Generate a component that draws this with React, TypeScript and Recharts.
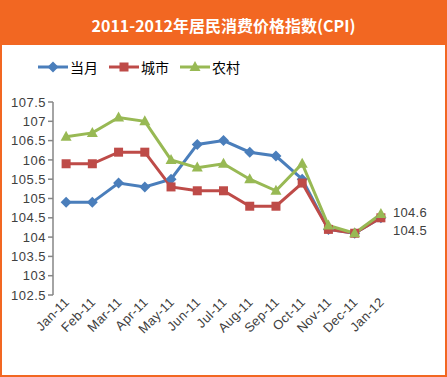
import React from 'react';
import { LineChart, Line, XAxis, YAxis, Legend, LabelList } from 'recharts';

const months = ['Jan-11', 'Feb-11', 'Mar-11', 'Apr-11', 'May-11', 'Jun-11', 'Jul-11', 'Aug-11', 'Sep-11', 'Oct-11', 'Nov-11', 'Dec-11', 'Jan-12'];
const dangyue = [104.9, 104.9, 105.4, 105.3, 105.5, 106.4, 106.5, 106.2, 106.1, 105.5, 104.2, 104.1, 104.5];
const chengshi = [105.9, 105.9, 106.2, 106.2, 105.3, 105.2, 105.2, 104.8, 104.8, 105.4, 104.2, 104.1, 104.5];
const nongcun = [106.6, 106.7, 107.1, 107.0, 106.0, 105.8, 105.9, 105.5, 105.2, 105.9, 104.3, 104.1, 104.6];
const yTicks = [102.5, 103, 103.5, 104, 104.5, 105, 105.5, 106, 106.5, 107, 107.5];
const boundTicks = [0, 1, 2, 3, 4, 5, 6, 7, 8, 9, 10, 11, 12, 13];

const data = months.map((m, i) => ({
  month: m,
  idx: i,
  dangyue: dangyue[i],
  chengshi: chengshi[i],
  nongcun: nongcun[i],
}));

const BLUE = '#4A7EBB';
const RED = '#BE4B48';
const GREEN = '#98B954';
const ORANGE = '#F26722';
const AXIS = '#868686';
const TXT = '#404040';
const FONT = 'Liberation Sans';

const Diamond = ({ cx, cy, fill }: any) => (
  <path d={`M${cx},${cy - 5.5}L${cx + 5.5},${cy}L${cx},${cy + 5.5}L${cx - 5.5},${cy}Z`} fill={fill} />
);
const Square = ({ cx, cy, fill }: any) => (
  <rect x={cx - 4.5} y={cy - 4.5} width={9} height={9} fill={fill} />
);
const Triangle = ({ cx, cy, fill }: any) => (
  <path d={`M${cx},${cy - 6}L${cx + 5.5},${cy + 4}L${cx - 5.5},${cy + 4}Z`} fill={fill} />
);

const legendItems = [
  { name: '当月', color: BLUE, Shape: Diamond },
  { name: '城市', color: RED, Shape: Square },
  { name: '农村', color: GREEN, Shape: Triangle },
];

const renderLegend = () => (
  <div style={{ display: 'flex', alignItems: 'center' }}>
    {legendItems.map(({ name, color, Shape }) => (
      <div key={name} style={{ display: 'flex', alignItems: 'center', marginRight: 11 }}>
        <svg width={30} height={14}>
          <line x1={0} y1={7} x2={30} y2={7} stroke={color} strokeWidth={3} />
          <Shape cx={15} cy={7} fill={color} />
        </svg>
        <span style={{ fontFamily: '"Noto Sans CJK SC"', fontSize: 14, color: '#000', marginLeft: 2 }}>{name}</span>
      </div>
    ))}
  </div>
);

const XTick = ({ x, y, payload }: any) => (
  <text
    x={x + 4}
    y={y + 8}
    transform={`rotate(-45 ${x + 4} ${y + 8})`}
    textAnchor="end"
    fontSize={13}
    letterSpacing={0.3}
    fontFamily={FONT}
    fill={TXT}
  >
    {payload.value}
  </text>
);

const lastLabel = (dy: number) => (props: any) => {
  const { x, y, index, value } = props;
  if (index !== months.length - 1) return null;
  return (
    <text x={x + 12} y={y + dy} dominantBaseline="middle" fontSize={13} letterSpacing={0.3} fontFamily={FONT} fill={TXT}>
      {value}
    </text>
  );
};

const App = () => (
  <div
    style={{
      position: 'absolute',
      left: 0,
      top: 0,
      width: 447,
      height: 377,
      boxSizing: 'border-box',
      border: `2px solid ${ORANGE}`,
      background: '#fff',
    }}
  >
    <div
      style={{
        position: 'absolute',
        left: -2,
        top: -2,
        width: 447,
        height: 45,
        background: ORANGE,
        color: '#fff',
        fontFamily: '"Noto Sans CJK SC"',
        fontWeight: 'bold',
        fontSize: 16,
        lineHeight: '50px',
        textAlign: 'center',
      }}
    >
      2011-2012年居民消费价格指数(CPI)
    </div>
    <div style={{ position: 'absolute', left: -2, top: 43 }}>
      <LineChart width={447} height={332} data={data} margin={{ top: 37, right: 53, bottom: 22, left: 0 }}>
        <XAxis
          xAxisId="bound"
          type="number"
          dataKey="idx"
          domain={[0, 13]}
          ticks={boundTicks}
          interval={0}
          allowDataOverflow
          height={0}
          tickFormatter={() => ''}
          tick={{ fontSize: 0 }}
          tickSize={5}
          axisLine={{ stroke: AXIS, strokeWidth: 1.5 }}
          tickLine={{ stroke: AXIS, strokeWidth: 1.5 }}
        />
        <XAxis
          xAxisId="cat"
          dataKey="month"
          height={60}
          padding={{ left: 13.1, right: 13.1 }}
          axisLine={false}
          tickLine={false}
          tickSize={0}
          tickMargin={0}
          interval={0}
          tick={<XTick />}
        />
        <YAxis
          domain={[102.5, 107.5]}
          ticks={yTicks}
          interval={0}
          width={53}
          tickSize={5}
          tickMargin={2}
          axisLine={{ stroke: AXIS, strokeWidth: 1.5 }}
          tickLine={{ stroke: AXIS, strokeWidth: 1.5 }}
          tick={{ fontSize: 13, fontFamily: FONT, fill: TXT, letterSpacing: 0.5 }}
          allowDataOverflow
        />
        <Legend verticalAlign="top" align="left" content={renderLegend} wrapperStyle={{ top: 12, left: 38 }} />
        <Line
          xAxisId="cat"
          dataKey="dangyue"
          stroke={BLUE}
          strokeWidth={3}
          dot={(p: any) => <Diamond key={`d${p.index}`} cx={p.cx} cy={p.cy} fill={BLUE} />}
          isAnimationActive={false}
        />
        <Line
          xAxisId="cat"
          dataKey="chengshi"
          stroke={RED}
          strokeWidth={3}
          dot={(p: any) => <Square key={`s${p.index}`} cx={p.cx} cy={p.cy} fill={RED} />}
          isAnimationActive={false}
        >
          <LabelList dataKey="chengshi" content={lastLabel(14)} />
        </Line>
        <Line
          xAxisId="cat"
          dataKey="nongcun"
          stroke={GREEN}
          strokeWidth={3}
          dot={(p: any) => <Triangle key={`t${p.index}`} cx={p.cx} cy={p.cy} fill={GREEN} />}
          isAnimationActive={false}
        >
          <LabelList dataKey="nongcun" content={lastLabel(0)} />
        </Line>
      </LineChart>
    </div>
  </div>
);

export default App;
